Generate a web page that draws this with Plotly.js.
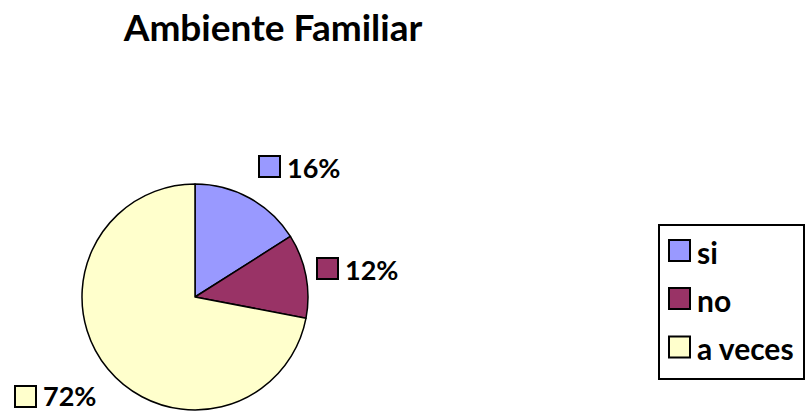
<!DOCTYPE html>
<html>
<head>
<meta charset="utf-8">
<script src="https://cdn.plot.ly/plotly-3.0.1.min.js"></script>
<style>html,body{margin:0;padding:0;background:#fff;}#chart{width:807px;height:412px;}</style>
</head>
<body>
<div id="chart"></div>
<script>
const categories = ["si", "no", "a veces"];
const values = [16, 12, 72];
const colors = ["#9999FF", "#993366", "#FFFFCC"];
const chartTitle = "Ambiente Familiar";

const W = 807, H = 412;
const px = x => x / W;
const py = y => 1 - y / H;
const FONT = "Lato, 'Open Sans', sans-serif";

// data label placement (pixel positions of key squares, text centre offset)
const labelPos = [
  {sx: 259, sy: 156, dy: 1},
  {sx: 317, sy: 258, dy: 1},
  {sx: 15, sy: 386, dy: -1.5}
];
const SQ = 21;

const shapes = [];
const annotations = [];

labelPos.forEach((p, i) => {
  shapes.push({type: "rect", xref: "paper", yref: "paper",
    x0: px(p.sx), x1: px(p.sx + SQ), y0: py(p.sy + SQ), y1: py(p.sy),
    fillcolor: colors[i], line: {color: "#000", width: 2}});
  annotations.push({xref: "paper", yref: "paper", x: px(p.sx + SQ + 6), y: py(p.sy + SQ / 2 + p.dy),
    xanchor: "left", yanchor: "middle", showarrow: false, borderpad: 0,
    text: "<b>" + values[i] + "%</b>", font: {family: FONT, size: 27, color: "#000"}});
});

// legend
shapes.push({type: "rect", xref: "paper", yref: "paper",
  x0: px(659), x1: px(804), y0: py(379), y1: py(225),
  fillcolor: "#fff", line: {color: "#000", width: 2}});
const legY = [250.5, 298.5, 347];
categories.forEach((c, i) => {
  shapes.push({type: "rect", xref: "paper", yref: "paper",
    x0: px(669), x1: px(690), y0: py(legY[i] + 10.5), y1: py(legY[i] - 10.5),
    fillcolor: colors[i], line: {color: "#000", width: 2}});
  annotations.push({xref: "paper", yref: "paper", x: px(695), y: py(legY[i] + 1),
    xanchor: "left", yanchor: "middle", showarrow: false,
    text: "<b>" + c + "</b>", font: {family: FONT, size: 30, color: "#000"}});
});

const data = [{
  type: "pie",
  labels: categories,
  values: values,
  sort: false,
  direction: "clockwise",
  rotation: 0,
  marker: {colors: colors, line: {color: "#000", width: 1.5}},
  textinfo: "none",
  hoverinfo: "label+percent",
  domain: {x: [px(82), px(308)], y: [py(410), py(184)]},
  showlegend: false
}];

const layout = {
  width: W, height: H,
  margin: {l: 0, r: 0, t: 0, b: 0},
  paper_bgcolor: "#fff",
  showlegend: false,
  title: {text: "<b>" + chartTitle + "</b>", x: px(273), xanchor: "center", y: py(28), yanchor: "middle",
    font: {family: FONT, size: 37, color: "#000"}},
  shapes: shapes,
  annotations: annotations
};

Plotly.newPlot("chart", data, layout, {displayModeBar: false, staticPlot: true});
</script>
</body>
</html>
